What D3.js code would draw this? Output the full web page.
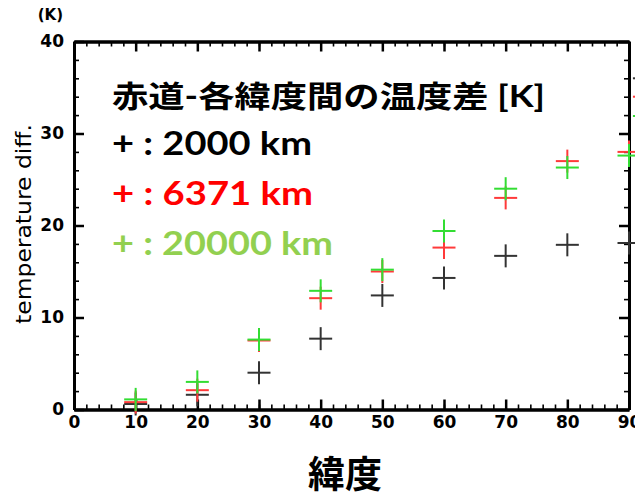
<!DOCTYPE html>
<html>
<head>
<meta charset="utf-8">
<script src="https://cdn.jsdelivr.net/npm/d3@7"></script>
<style>
  body { margin: 0; background: #fff; }
  svg { display: block; }
</style>
</head>
<body>
<div id="chart"></div>
<script>
// latitudes (deg) and equator-minus-latitude temperature difference (K)
const latitudes = [10, 20, 30, 40, 50, 60, 70, 80, 90];
const diff2000 = [0.6, 1.6, 4.0, 7.7, 12.4, 14.3, 16.7, 17.9, 18.1];
const diff6371 = [0.8, 2.1, 7.5, 12.1, 15.0, 17.6, 23.0, 27.0, 28.0];
const diff20000 = [1.1, 3.0, 7.6, 12.9, 15.2, 19.4, 24.0, 26.3, 27.6];
// marks just past the right frame (cut off in the picture)
const edgeLat = 92.5;
const edgeVals = [36.0, 34.0, 31.9];

const xTicks = [0, 10, 20, 30, 40, 50, 60, 70, 80, 90];
const yTicks = [0, 10, 20, 30, 40];
const seriesNames = ["2000 km", "6371 km", "20000 km"];

const W = 635, H = 498;
const margin = { left: 74, top: 41.5, right: 6, bottom: 88.5 };
const w = W - margin.left - margin.right;
const h = H - margin.top - margin.bottom;

const svg = d3.select("#chart").append("svg")
  .attr("width", W).attr("height", H);

const g = svg.append("g")
  .attr("transform", "translate(" + margin.left + "," + margin.top + ")");

const x = d3.scaleLinear().domain([0, 90]).range([0, w]);
const y = d3.scaleLinear().domain([0, 40]).range([h, 0]);

const minorX = d3.range(0, 91, 2);
const minorY = d3.range(0, 41, 2);

function styleAxis(sel, width) {
  sel.select(".domain").attr("stroke", "#000").attr("stroke-width", 3);
  sel.selectAll(".tick line").attr("stroke", "#000").attr("stroke-width", width);
}

// minor ticks (all four sides, pointing inward)
g.append("g").attr("transform", "translate(0," + h + ")")
  .call(d3.axisBottom(x).tickValues(minorX).tickFormat("").tickSize(-5).tickSizeOuter(0))
  .call(styleAxis, 1.6);
g.append("g")
  .call(d3.axisTop(x).tickValues(minorX).tickFormat("").tickSize(-5).tickSizeOuter(0))
  .call(styleAxis, 1.6);
g.append("g")
  .call(d3.axisLeft(y).tickValues(minorY).tickFormat("").tickSize(-5).tickSizeOuter(0))
  .call(styleAxis, 1.6);
g.append("g").attr("transform", "translate(" + w + ",0)")
  .call(d3.axisRight(y).tickValues(minorY).tickFormat("").tickSize(-5).tickSizeOuter(0))
  .call(styleAxis, 1.6);

// major ticks
const xAxis = g.append("g").attr("transform", "translate(0," + h + ")")
  .call(d3.axisBottom(x).tickValues(xTicks).tickSize(-10).tickSizeOuter(0).tickPadding(6))
  .call(styleAxis, 2.5);
g.append("g")
  .call(d3.axisTop(x).tickValues(xTicks).tickFormat("").tickSize(-10).tickSizeOuter(0))
  .call(styleAxis, 2.5);
const yAxis = g.append("g")
  .call(d3.axisLeft(y).tickValues(yTicks).tickSize(-10).tickSizeOuter(0).tickPadding(10))
  .call(styleAxis, 2.5);
g.append("g").attr("transform", "translate(" + w + ",0)")
  .call(d3.axisRight(y).tickValues(yTicks).tickFormat("").tickSize(-10).tickSizeOuter(0))
  .call(styleAxis, 2.5);

[xAxis, yAxis].forEach(a => a.selectAll("text")
  .attr("font-family", "'DejaVu Sans', sans-serif")
  .attr("font-weight", "bold")
  .attr("font-size", 17)
  .attr("fill", "#000"));

// markers
const colors = ["#333333", "#ff3a3a", "#33dd33"];
const allSeries = [diff2000, diff6371, diff20000];
const half = 11.5;

function plus(sel, color) {
  sel.append("line")
    .attr("x1", d => x(d.lat) - half).attr("x2", d => x(d.lat) + half)
    .attr("y1", d => y(d.v)).attr("y2", d => y(d.v));
  sel.append("line")
    .attr("x1", d => x(d.lat)).attr("x2", d => x(d.lat))
    .attr("y1", d => y(d.v) - half).attr("y2", d => y(d.v) + half);
  sel.selectAll("line").attr("stroke", color).attr("stroke-width", 2);
}

allSeries.forEach((vals, i) => {
  const pts = latitudes.map((lat, j) => ({ lat: lat, v: vals[j] }));
  pts.push({ lat: edgeLat, v: edgeVals[i] });
  g.append("g").selectAll("g.pt")
    .data(pts).enter().append("g").attr("class", "pt")
    .each(function () { plus(d3.select(this), colors[i]); });
});

// axis titles
svg.append("text")
  .attr("x", 63).attr("y", 20)
  .attr("text-anchor", "end")
  .attr("font-family", "'DejaVu Sans', sans-serif")
  .attr("font-weight", "bold")
  .attr("font-size", 15)
  .text("(K)");

svg.append("text")
  .attr("transform", "translate(31,224) rotate(-90)")
  .attr("text-anchor", "middle")
  .attr("font-family", "'DejaVu Sans', sans-serif")
  .attr("font-size", 21)
  .attr("textLength", 200)
  .attr("lengthAdjust", "spacingAndGlyphs")
  .text("temperature diff.");

svg.append("text")
  .attr("x", 345).attr("y", 488)
  .attr("text-anchor", "middle")
  .attr("font-family", "'Noto Sans CJK JP', sans-serif")
  .attr("font-weight", "bold")
  .attr("font-size", 37)
  .text("緯度");

// legend
const legFont = "Lato, 'Noto Sans CJK JP', sans-serif";
svg.append("text")
  .attr("x", 112).attr("y", 107)
  .attr("font-family", legFont)
  .attr("font-weight", "bold")
  .attr("font-size", 30)
  .attr("textLength", 433)
  .attr("lengthAdjust", "spacingAndGlyphs")
  .text("赤道-各緯度間の温度差 [K]");

const legColors = ["#000000", "#ff0000", "#92d050"];
const legLens = [200, 201, 221];
seriesNames.forEach((name, i) => {
  svg.append("text")
    .attr("x", 112).attr("y", 155 + i * 50)
    .attr("font-family", legFont)
    .attr("font-weight", "bold")
    .attr("font-size", 33)
    .attr("fill", legColors[i])
    .attr("textLength", legLens[i])
    .attr("lengthAdjust", "spacingAndGlyphs")
    .text("+ : " + name);
});
</script>
</body>
</html>
